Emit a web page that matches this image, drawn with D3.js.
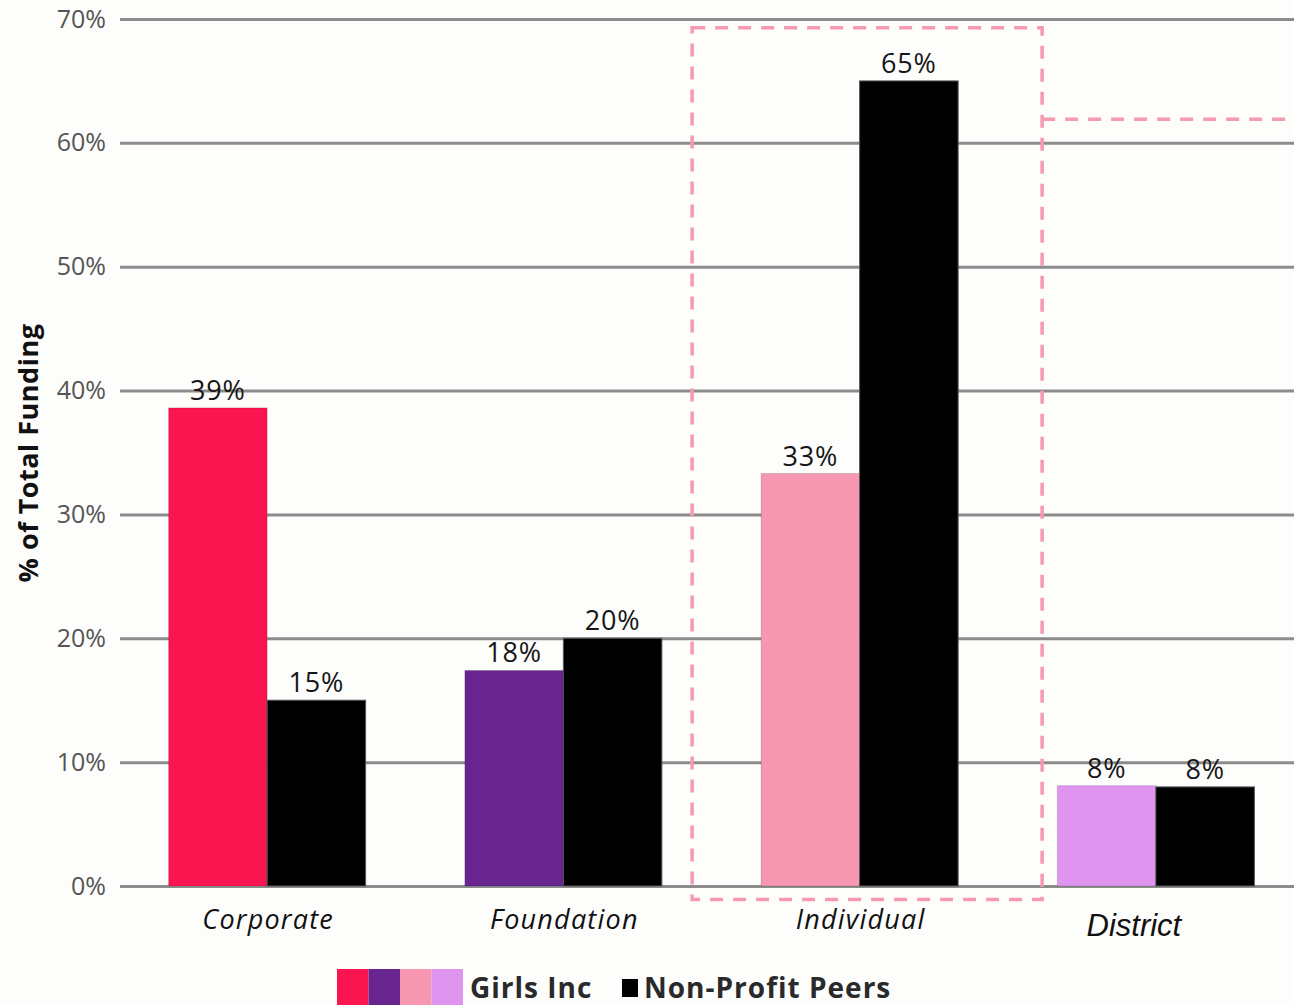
<!DOCTYPE html>
<html>
<head>
<meta charset="utf-8">
<script src="https://cdn.jsdelivr.net/npm/d3@7"></script>
<style>
  html, body { margin: 0; padding: 0; background: #fdfdfb; }
  svg { display: block; }
</style>
</head>
<body>
<div id="chart"></div>
<script>
// data
const categories = ["Corporate", "Foundation", "Individual", "District"];
const girlsInc = [38.6, 17.4, 33.3, 8.1];
const peers = [15, 20, 65, 8];
const girlsLabels = ["39%", "18%", "33%", "8%"];
const peerLabels = ["15%", "20%", "65%", "8%"];
const girlsColors = ["#fb1550", "#68248f", "#f797b1", "#df95f0"];
const yTicks = [0, 10, 20, 30, 40, 50, 60, 70];

const width = 1294, height = 1005;
const margin = { left: 120, top: 19, right: 0, bottom: 119 };

const svg = d3.select("#chart").append("svg")
  .attr("width", width).attr("height", height);

//#region scales
const y = d3.scaleLinear().domain([0, 70]).range([886, 19]);
const x = d3.scaleBand().domain(categories).range([119, 1304])
  .paddingInner(0.335).paddingOuter(0.1675);
const xs = d3.scaleBand().domain(["girls", "peers"]).range([0, x.bandwidth()]);
//#endregion

const font = "'Open Sans', sans-serif";

//#region grid + y axis
const yAxis = d3.axisLeft(y).tickValues(yTicks).tickSize(-(width - margin.left))
  .tickFormat(d => d + "%").tickPadding(14);
const gy = svg.append("g").attr("transform", `translate(${margin.left},0)`).call(yAxis);
gy.select(".domain").remove();
gy.selectAll(".tick line").attr("stroke", "#8c8c8c").attr("stroke-width", 3);
gy.selectAll(".tick text")
  .attr("font-family", font).attr("font-size", 25)
  .attr("fill", "#555");

svg.append("text")
  .attr("transform", "translate(38,453) rotate(-90)")
  .attr("text-anchor", "middle")
  .attr("font-family", font).attr("font-weight", 700)
  .attr("font-size", 27).attr("letter-spacing", 0.5).attr("fill", "#111")
  .text("% of Total Funding");
//#endregion

//#region bars
const rows = categories.map((c, i) => ({
  cat: c, g: girlsInc[i], p: peers[i], gl: girlsLabels[i], pl: peerLabels[i], col: girlsColors[i]
}));

const groups = svg.append("g").selectAll("g").data(rows).join("g")
  .attr("transform", d => `translate(${x(d.cat)},0)`);

groups.append("rect")
  .attr("x", xs("girls")).attr("width", xs.bandwidth())
  .attr("y", d => y(d.g)).attr("height", d => y(0) - y(d.g))
  .attr("fill", d => d.col).attr("stroke", "rgba(0,0,0,0.15)");

groups.append("rect")
  .attr("x", xs("peers")).attr("width", xs.bandwidth())
  .attr("y", d => y(d.p)).attr("height", d => y(0) - y(d.p))
  .attr("fill", "#000").attr("stroke", "#555");

groups.append("text")
  .attr("x", xs("girls") + xs.bandwidth() / 2).attr("y", d => y(d.g) - 8)
  .attr("text-anchor", "middle").attr("font-family", font)
  .attr("font-size", 27).attr("letter-spacing", 0.8).attr("fill", "#161616").text(d => d.gl);

groups.append("text")
  .attr("x", xs("peers") + xs.bandwidth() / 2).attr("y", d => y(d.p) - 8)
  .attr("text-anchor", "middle").attr("font-family", font)
  .attr("font-size", 27).attr("letter-spacing", 0.8).attr("fill", "#161616").text(d => d.pl);

// category labels
groups.append("text")
  .attr("x", d => d.cat === "District" ? x.bandwidth() / 2 - 22 : x.bandwidth() / 2 + 1)
  .attr("y", d => d.cat === "District" ? 936 : 929)
  .attr("text-anchor", "middle")
  .attr("font-family", d => d.cat === "District" ? "'Liberation Sans', Arial, sans-serif" : font)
  .attr("font-style", "italic")
  .attr("font-weight", d => d.cat === "District" ? 400 : 500)
  .attr("letter-spacing", d => d.cat === "District" ? 0 : 1.2)
  .attr("font-size", d => d.cat === "District" ? 31 : 27)
  .attr("fill", "#111")
  .text(d => d.cat);
//#endregion

//#region dashed highlight
const dash = "#f59ab0";
const boxL = x("Individual") - 69, boxR = x("Individual") + x.bandwidth() + 84;
svg.append("rect")
  .attr("x", boxL).attr("y", y(69.3)).attr("width", boxR - boxL).attr("height", y(-1.1) - y(69.3))
  .attr("fill", "none").attr("stroke", dash).attr("stroke-width", 3.5)
  .attr("stroke-dasharray", "13,10");
svg.append("line")
  .attr("x1", boxR).attr("x2", width).attr("y1", y(61.9)).attr("y2", y(61.9))
  .attr("stroke", dash).attr("stroke-width", 3.5).attr("stroke-dasharray", "13,10");
//#endregion

//#region legend
const legend = svg.append("g").attr("transform", "translate(337,969)");
legend.selectAll("rect").data(girlsColors).join("rect")
  .attr("x", (d, i) => i * 31.5).attr("y", 0).attr("width", 31.5).attr("height", 36)
  .attr("fill", d => d);
legend.append("text").attr("x", 133).attr("y", 29)
  .attr("font-family", font).attr("font-weight", 700).attr("font-size", 28)
  .attr("letter-spacing", 1).attr("fill", "#2a2a2a").text("Girls Inc");
legend.append("rect").attr("x", 285).attr("y", 10).attr("width", 16).attr("height", 18).attr("fill", "#000");
legend.append("text").attr("x", 307).attr("y", 29)
  .attr("font-family", font).attr("font-weight", 700).attr("font-size", 28)
  .attr("letter-spacing", 1).attr("fill", "#2a2a2a").text("Non-Profit Peers");
//#endregion
</script>
</body>
</html>
